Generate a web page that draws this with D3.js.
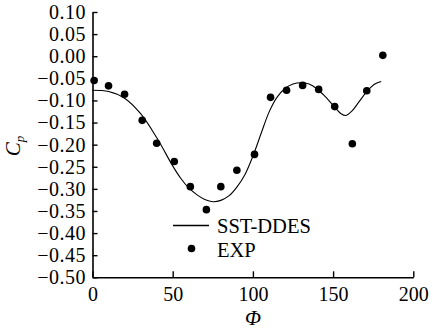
<!DOCTYPE html>
<html>
<head>
<meta charset="utf-8">
<script src="https://cdn.jsdelivr.net/npm/d3@7"></script>
<style>
body { margin: 0; background: #fff; }
text { font-family: "Liberation Serif", "Times New Roman", serif; fill: #000; }
</style>
</head>
<body>
<svg width="433" height="331"></svg>
<script>
// experimental points (phi, Cp)
var expPhi = [1, 10, 20, 31, 40, 51, 61, 71, 80, 90, 101, 111, 121, 131, 141, 151, 162, 171, 181];
var expCp = [-0.055, -0.067, -0.086, -0.145, -0.197, -0.238, -0.295, -0.347, -0.295, -0.258, -0.222,
    -0.093, -0.077, -0.066, -0.075, -0.114, -0.198, -0.078, 0.002];

// SST-DDES curve
var simPhi = [0, 10, 20, 30, 40, 50, 55, 60, 65, 70, 75, 80, 85, 90, 95, 100, 105, 110, 115, 120,
    125, 130, 135, 140, 145, 150, 155, 158, 162, 166, 171, 176, 180];
var simCp = [-0.077, -0.080, -0.095, -0.130, -0.184, -0.248, -0.276, -0.298, -0.313, -0.324, -0.329,
    -0.326, -0.316, -0.296, -0.268, -0.226, -0.176, -0.127, -0.093, -0.073, -0.063, -0.060, -0.063,
    -0.074, -0.091, -0.111, -0.130, -0.134, -0.123, -0.104, -0.080, -0.063, -0.057];

var xTicks = [0, 50, 100, 150, 200];
var yTicks = [0.10, 0.05, 0.00, -0.05, -0.10, -0.15, -0.20, -0.25, -0.30, -0.35, -0.40, -0.45, -0.50];

var svg = d3.select("svg");

var x = d3.scaleLinear().domain([0, 200]).range([92.5, 413.3]);
var y = d3.scaleLinear().domain([-0.5, 0.1]).range([277.3, 12]);

// x axis, ticks pointing up
var xAxis = svg.append("g")
    .attr("transform", "translate(0," + y(-0.5) + ")")
    .call(d3.axisBottom(x).tickValues(xTicks).tickSize(-6).tickSizeOuter(0).tickPadding(10)
        .tickFormat(d3.format("d")));

// y axis, ticks pointing right
var yAxis = svg.append("g")
    .attr("transform", "translate(" + x(0) + ",0)")
    .call(d3.axisLeft(y).tickValues(yTicks).tickSize(-5).tickSizeOuter(0).tickPadding(6.5)
        .tickFormat(d3.format(".2f")));

svg.selectAll(".domain").attr("stroke", "#000").attr("stroke-width", 1.6);
svg.selectAll(".tick line").attr("stroke", "#000").attr("stroke-width", 1.4);
svg.selectAll("g").attr("font-family", null);
svg.selectAll(".tick text")
    .style("font-family", "Liberation Serif")
    .style("font-size", "20px")
    .attr("fill", "#000");
yAxis.selectAll(".tick text").style("letter-spacing", "0.5px");

// curve
var line = d3.line()
    .x(function (d) { return x(d[0]); })
    .y(function (d) { return y(d[1]); })
    .curve(d3.curveCatmullRom);

var simData = simPhi.map(function (p, i) { return [p, simCp[i]]; });
svg.append("path")
    .datum(simData)
    .attr("d", line)
    .attr("fill", "none")
    .attr("stroke", "#000")
    .attr("stroke-width", 1.1);

// points
svg.append("g")
    .selectAll("circle")
    .data(expPhi.map(function (p, i) { return [p, expCp[i]]; }))
    .enter().append("circle")
    .attr("cx", function (d) { return x(d[0]); })
    .attr("cy", function (d) { return y(d[1]); })
    .attr("r", 3.8)
    .attr("fill", "#000");

// legend
var legend = svg.append("g");
legend.append("line")
    .attr("x1", 173).attr("x2", 209)
    .attr("y1", 225.5).attr("y2", 225.5)
    .attr("stroke", "#000").attr("stroke-width", 1.3);
legend.append("text")
    .attr("x", 217).attr("y", 233.3)
    .style("font-size", "20.5px")
    .text("SST-DDES");
legend.append("circle")
    .attr("cx", 191.5).attr("cy", 248.5).attr("r", 3.8).attr("fill", "#000");
legend.append("text")
    .attr("x", 217).attr("y", 256.7)
    .style("font-size", "20.5px")
    .text("EXP");

// axis titles
svg.append("text")
    .attr("x", x(100))
    .attr("y", 325)
    .attr("text-anchor", "middle")
    .style("font-size", "21px")
    .style("font-style", "italic")
    .text("Φ");

var yTitle = svg.append("text")
    .attr("transform", "translate(20,146) rotate(-90)")
    .attr("text-anchor", "middle")
    .style("font-size", "21px")
    .style("font-style", "italic");
yTitle.append("tspan").text("C");
yTitle.append("tspan").attr("dy", 4).style("font-size", "13px").text("p");
</script>
</body>
</html>
